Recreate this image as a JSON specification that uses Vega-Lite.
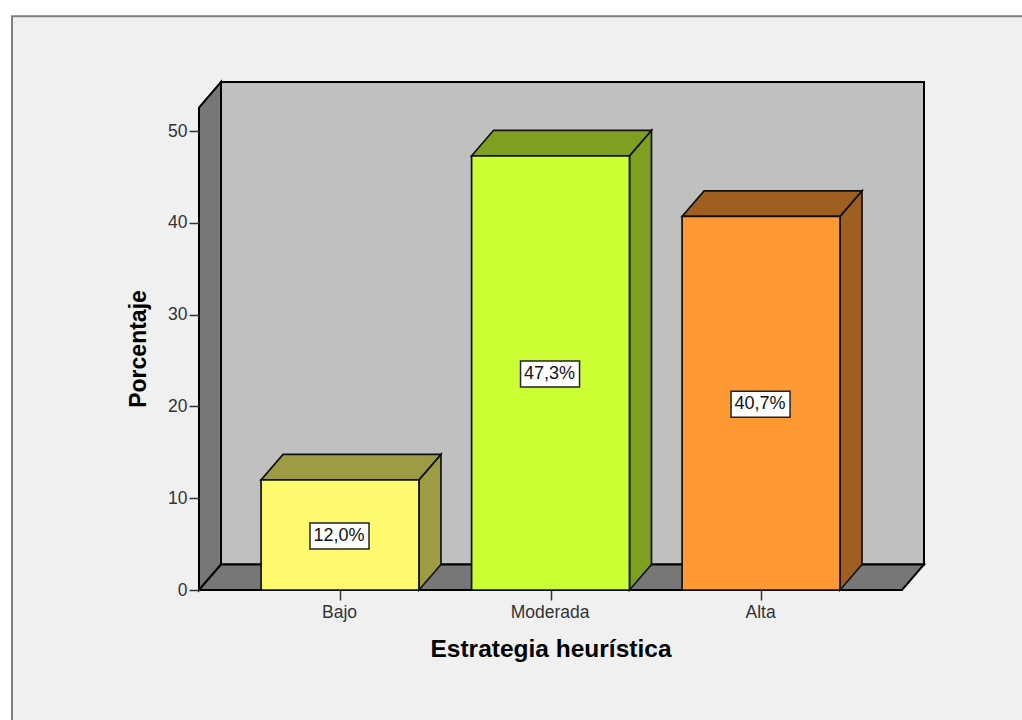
{
  "$schema": "https://vega.github.io/schema/vega-lite/v6.json",
  "width": 725,
  "height": 508,
  "autosize": "none",
  "padding": {"left": 199, "top": 82, "right": 98, "bottom": 130},
  "background": "#ffffff",
  "config": {"view": {"stroke": null}, "font": "Liberation Sans"},
  "params": [
    {"name": "medioAncho", "value": 0.375},
    {"name": "fondoX", "value": 0.1045},
    {"name": "fondoY", "value": 2.78},
    {"name": "xMin", "value": 0.3302},
    {"name": "xMax", "value": 3.774},
    {"name": "yMax", "value": 55.34}
  ],
  "datasets": {
    "barras": [
      {"categoria": "Bajo", "orden": 1, "porcentaje": 12.0},
      {"categoria": "Moderada", "orden": 2, "porcentaje": 47.3},
      {"categoria": "Alta", "orden": 3, "porcentaje": 40.7}
    ],
    "marco": [{"plano": "grafico"}]
  },
  "encoding": {
    "x": {
      "field": "ex",
      "type": "quantitative",
      "scale": {"domain": [0.3302, 3.774], "nice": false, "zero": false},
      "axis": {
        "values": [1, 2, 3],
        "labelExpr": "datum.value == 1 ? 'Bajo' : datum.value == 2 ? 'Moderada' : 'Alta'",
        "title": "Estrategia heurística",
        "titleFontSize": 24.5,
        "titleFontWeight": "bold",
        "titleColor": "#000000",
        "titleX": 351.5,
        "titlePadding": 17,
        "labelFontSize": 17.5,
        "labelColor": "#333333",
        "labelPadding": 3,
        "labelOffset": -1,
        "tickSize": 10,
        "tickColor": "#333333",
        "tickWidth": 1.5,
        "domain": false,
        "grid": false,
        "zindex": 1
      }
    },
    "y": {
      "field": "ey",
      "type": "quantitative",
      "stack": null,
      "scale": {"domain": [0, 55.34], "nice": false, "zero": false},
      "axis": {
        "values": [0, 10, 20, 30, 40, 50],
        "title": "Porcentaje",
        "titleFontSize": 23,
        "titleFontWeight": "bold",
        "titleColor": "#000000",
        "titleY": 266.5,
        "titlePadding": 17,
        "labelFontSize": 17.5,
        "labelColor": "#333333",
        "labelPadding": 2,
        "tickSize": 10,
        "tickColor": "#333333",
        "tickWidth": 1.5,
        "domain": false,
        "grid": false,
        "zindex": 1
      }
    }
  },
  "layer": [
    {
      "description": "Panel claro con borde gris",
      "data": {"name": "marco"},
      "transform": [
        {"calculate": "[0, 1]", "as": "esquina"},
        {"flatten": ["esquina"]},
        {"calculate": "-0.558 + datum.esquina * 4.836", "as": "ex"},
        {"calculate": "-15.25", "as": "ey"},
        {"calculate": "62.5", "as": "ey2"}
      ],
      "mark": {"type": "area", "fill": "#f0f0f0", "stroke": "#808080", "strokeWidth": 2},
      "encoding": {"y2": {"field": "ey2"}}
    },
    {
      "description": "Pared del fondo",
      "data": {"name": "marco"},
      "transform": [
        {"calculate": "[0, 1]", "as": "esquina"},
        {"flatten": ["esquina"]},
        {"calculate": "xMin + fondoX + datum.esquina * (xMax - xMin - fondoX)", "as": "ex"},
        {"calculate": "fondoY", "as": "ey"},
        {"calculate": "yMax", "as": "ey2"}
      ],
      "mark": {"type": "area", "fill": "#c0c0c0", "stroke": "#000000", "strokeWidth": 2},
      "encoding": {"y2": {"field": "ey2"}}
    },
    {
      "description": "Pared lateral izquierda",
      "data": {"name": "marco"},
      "transform": [
        {"calculate": "[0, 1]", "as": "esquina"},
        {"flatten": ["esquina"]},
        {"calculate": "xMin + datum.esquina * fondoX", "as": "ex"},
        {"calculate": "datum.esquina * fondoY", "as": "ey"},
        {"calculate": "yMax - fondoY + datum.esquina * fondoY", "as": "ey2"}
      ],
      "mark": {"type": "area", "fill": "#777777", "stroke": "#000000", "strokeWidth": 2},
      "encoding": {"y2": {"field": "ey2"}}
    },
    {
      "description": "Suelo",
      "data": {"name": "marco"},
      "transform": [
        {"calculate": "[0, 1, 2, 3]", "as": "esquina"},
        {"flatten": ["esquina"]},
        {"calculate": "datum.esquina == 0 ? xMin : datum.esquina == 1 ? xMin + fondoX : datum.esquina == 2 ? xMax - fondoX : xMax", "as": "ex"},
        {"calculate": "datum.esquina == 3 ? fondoY : 0", "as": "ey"},
        {"calculate": "datum.esquina == 0 ? 0 : fondoY", "as": "ey2"}
      ],
      "mark": {"type": "area", "fill": "#777777", "stroke": "#000000", "strokeWidth": 2},
      "encoding": {"y2": {"field": "ey2"}}
    },
    {
      "description": "Cara lateral de cada barra",
      "data": {"name": "barras"},
      "transform": [
        {"calculate": "[0, 1]", "as": "esquina"},
        {"flatten": ["esquina"]},
        {"calculate": "datum.orden + medioAncho + datum.esquina * fondoX", "as": "ex"},
        {"calculate": "datum.esquina * fondoY", "as": "ey"},
        {"calculate": "datum.porcentaje + datum.esquina * fondoY", "as": "ey2"}
      ],
      "mark": {"type": "area", "stroke": "#111111", "strokeWidth": 1.7},
      "encoding": {
        "y2": {"field": "ey2"},
        "color": {
          "field": "categoria",
          "type": "nominal",
          "legend": null,
          "scale": {"domain": ["Bajo", "Moderada", "Alta"], "range": ["#9e9b45", "#7f9f20", "#9f5f20"]}
        }
      }
    },
    {
      "description": "Cara superior de cada barra",
      "data": {"name": "barras"},
      "transform": [
        {"calculate": "[0, 1, 2, 3]", "as": "esquina"},
        {"flatten": ["esquina"]},
        {"calculate": "datum.esquina == 0 ? datum.orden - medioAncho : datum.esquina == 1 ? datum.orden - medioAncho + fondoX : datum.esquina == 2 ? datum.orden + medioAncho : datum.orden + medioAncho + fondoX", "as": "ex"},
        {"calculate": "datum.porcentaje + (datum.esquina == 3 ? fondoY : 0)", "as": "ey"},
        {"calculate": "datum.porcentaje + (datum.esquina == 0 ? 0 : fondoY)", "as": "ey2"}
      ],
      "mark": {"type": "area", "stroke": "#111111", "strokeWidth": 1.7},
      "encoding": {
        "y2": {"field": "ey2"},
        "color": {
          "field": "categoria",
          "type": "nominal",
          "legend": null,
          "scale": {"domain": ["Bajo", "Moderada", "Alta"], "range": ["#9e9b45", "#7f9f20", "#9f5f20"]}
        }
      }
    },
    {
      "description": "Cara frontal de cada barra",
      "data": {"name": "barras"},
      "transform": [
        {"calculate": "[0, 1]", "as": "esquina"},
        {"flatten": ["esquina"]},
        {"calculate": "datum.orden - medioAncho + datum.esquina * 2 * medioAncho", "as": "ex"},
        {"calculate": "0", "as": "ey"},
        {"calculate": "datum.porcentaje", "as": "ey2"}
      ],
      "mark": {"type": "area", "stroke": "#111111", "strokeWidth": 1.7},
      "encoding": {
        "y2": {"field": "ey2"},
        "color": {
          "field": "categoria",
          "type": "nominal",
          "legend": null,
          "scale": {"domain": ["Bajo", "Moderada", "Alta"], "range": ["#fcf96f", "#ccff33", "#ff9933"]}
        }
      }
    },
    {
      "description": "Caja blanca de cada rótulo",
      "data": {"name": "barras"},
      "transform": [
        {"calculate": "datum.orden", "as": "ex"},
        {"calculate": "datum.porcentaje / 2", "as": "ey"}
      ],
      "mark": {"type": "rect", "width": 59, "height": 26, "xOffset": -0.5, "yOffset": 1, "fill": "#ffffff", "stroke": "#222222", "strokeWidth": 1.5}
    },
    {
      "description": "Rótulo de porcentaje con coma decimal",
      "data": {"name": "barras"},
      "transform": [
        {"calculate": "datum.orden", "as": "ex"},
        {"calculate": "datum.porcentaje / 2", "as": "ey"},
        {"calculate": "replace(format(datum.porcentaje, '.1f'), '.', ',') + '%'", "as": "rotulo"}
      ],
      "mark": {"type": "text", "fontSize": 18, "color": "#111111", "baseline": "middle", "align": "center", "dx": -1, "dy": 1},
      "encoding": {"text": {"field": "rotulo"}}
    }
  ],
  "resolve": {"scale": {"color": "independent"}}
}
